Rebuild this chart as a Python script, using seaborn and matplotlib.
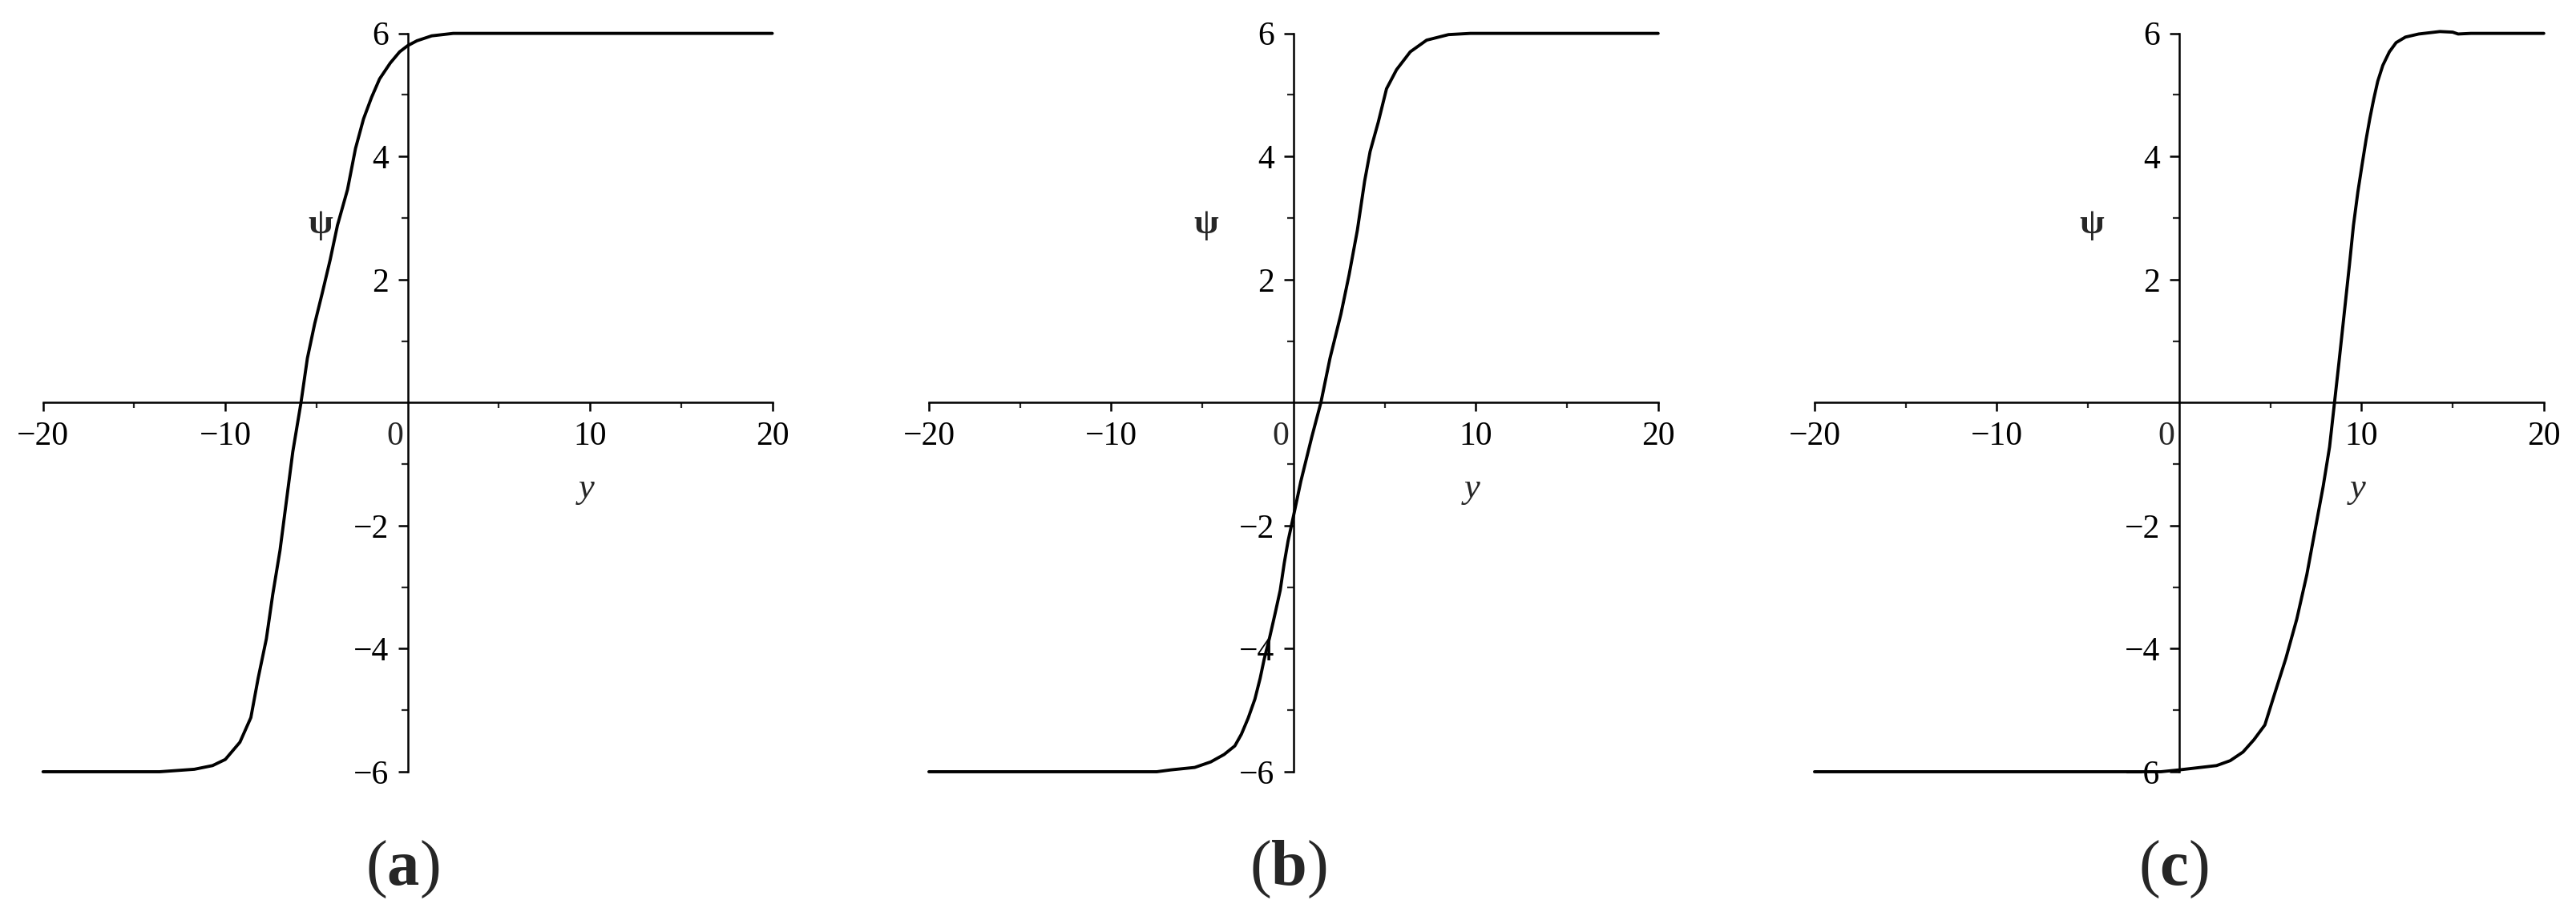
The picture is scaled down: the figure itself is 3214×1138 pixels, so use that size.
import matplotlib
matplotlib.use("Agg")
import matplotlib.pyplot as plt
from matplotlib.ticker import FixedLocator
import seaborn as sns

# curve samples (y, psi)
y_a = [-20, -13.6, -11.7, -10.7, -10.0, -9.2, -8.6, -8.2, -7.75, -7.4, -7.0, -6.65, -6.3,
       -5.85, -5.5, -5.1, -4.7, -4.25, -3.85, -3.3, -2.86, -2.42, -1.98, -1.54, -0.95,
       -0.44, 0.0, 0.51, 1.32, 2.5, 4.0, 20]
psi_a = [-6, -6, -5.96, -5.9, -5.8, -5.52, -5.12, -4.48, -3.84, -3.12, -2.4, -1.6, -0.8,
         0.0, 0.72, 1.28, 1.76, 2.32, 2.88, 3.46, 4.13, 4.61, 4.96, 5.26, 5.52,
         5.70, 5.80, 5.88, 5.96, 6.0, 6.0, 6.0]

y_b = [-20, -7.5, -6.73, -5.42, -4.54, -3.81, -3.22, -2.86, -2.49, -2.12, -1.83, -1.61,
       -1.32, -1.02, -0.73, -0.51, -0.3, 0.0, 0.4, 1.0, 1.5, 2.0, 2.6, 3.05, 3.5, 3.9, 4.2,
       4.65, 5.1, 5.65, 6.4, 7.3, 8.5, 9.7, 20]
psi_b = [-6, -6, -5.97, -5.93, -5.84, -5.72, -5.58, -5.39, -5.13, -4.82, -4.48, -4.17,
         -3.83, -3.44, -3.05, -2.61, -2.25, -1.84, -1.28, -0.56, 0.0, 0.72, 1.44, 2.08, 2.8,
         3.6, 4.08, 4.56, 5.1, 5.41, 5.7, 5.89, 5.98, 6.0, 6.0]

y_c = [-20, -1.0, 0.0, 2.05, 2.8, 3.5, 4.1, 4.7, 5.25, 5.85, 6.45, 7.0, 7.45, 7.9, 8.25,
       8.52, 8.76, 9.05, 9.34, 9.56, 9.8, 10.04, 10.25, 10.46, 10.67, 10.89, 11.17, 11.53,
       11.9, 12.41, 13.14, 14.3, 15.0, 15.3, 16, 20]
psi_c = [-6, -6, -5.97, -5.9, -5.82, -5.68, -5.48, -5.24, -4.72, -4.16, -3.52, -2.8, -2.08,
         -1.36, -0.72, 0.0, 0.64, 1.44, 2.24, 2.88, 3.42, 3.88, 4.27, 4.62, 4.93, 5.22,
         5.48, 5.7, 5.85, 5.94, 5.99, 6.03, 6.02, 5.99, 6.0, 6.0]

panels = [("a", y_a, psi_a), ("b", y_b, psi_b), ("c", y_c, psi_c)]

x_major = [-20, -10, 10, 20]
x_minor = [-15, -5, 5, 15]
psi_major = [-6, -4, -2, 2, 4, 6]
psi_minor = [-5, -3, -1, 1, 3, 5]

sns.set_style("white")
plt.rcParams["font.family"] = ["Liberation Serif", "DejaVu Serif"]
plt.rcParams["mathtext.fontset"] = "custom"
plt.rcParams["mathtext.rm"] = "Liberation Serif"
plt.rcParams["mathtext.bf"] = "Liberation Serif:bold"
plt.rcParams["mathtext.it"] = "Liberation Serif:italic"

fig = plt.figure(figsize=(32.14, 11.38), dpi=100)
lefts = [0.0167, 0.3606, 0.7044]

for left, (tag, ys, psis) in zip(lefts, panels):
    ax = fig.add_axes([left, 0.1538, 0.2831, 0.8096])
    sns.lineplot(x=ys, y=psis, ax=ax, color="black", linewidth=2.8,
                 estimator=None, sort=False, clip_on=False)
    ax.set_xlim(-20, 20)
    ax.set_ylim(-6, 6)

    for side in ["top", "right"]:
        ax.spines[side].set_visible(False)
    for side in ["left", "bottom"]:
        ax.spines[side].set_position("zero")
        ax.spines[side].set_linewidth(1.8)
        ax.spines[side].set_color("black")

    ax.xaxis.set_major_locator(FixedLocator(x_major))
    ax.xaxis.set_minor_locator(FixedLocator(x_minor))
    ax.yaxis.set_major_locator(FixedLocator(psi_major))
    ax.yaxis.set_minor_locator(FixedLocator(psi_minor))
    ax.tick_params(axis="x", which="major", direction="out", length=8, width=1.8,
                   pad=9, labelsize=30, colors="black", bottom=True)
    ax.tick_params(axis="x", which="minor", direction="out", length=5, width=1.6,
                   bottom=True)
    ax.tick_params(axis="y", which="major", direction="out", length=8.5, width=1.8,
                   pad=8.5, labelsize=30, colors="black", left=True)
    ax.tick_params(axis="y", which="minor", direction="out", length=5.5, width=1.6,
                   left=True)
    ax.set_xticklabels(["−20", "−10", "10", "20"])
    ax.set_yticklabels(["−6", "−4", "−2", "2", "4", "6"])

    # origin label sits left of the vertical axis
    ax.annotate("0", xy=(0, 0), xytext=(-4, -17), textcoords="offset points",
                ha="right", va="top", fontsize=30)

    ax.set_xlabel("")
    ax.set_ylabel("")
    ax.text(9.8, -1.4, "y", fontsize=32, style="italic", ha="center", va="center")
    ax.text(-4.8, 2.9, "ψ", fontsize=32, fontweight="bold", ha="center", va="center")

    ax.annotate(r"($\mathbf{%s}$)" % tag, xy=(-0.3, 0.047),
                xycoords=("data", "figure fraction"),
                ha="center", va="center", fontsize=58, annotation_clip=False)

fig.savefig("out.png", dpi=100)
